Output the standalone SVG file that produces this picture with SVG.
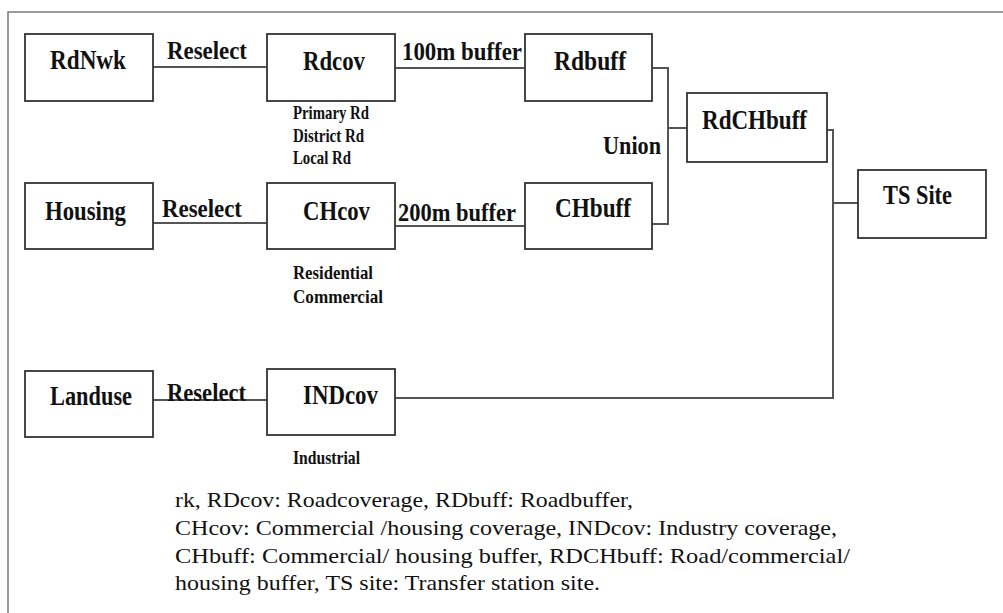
<svg xmlns="http://www.w3.org/2000/svg" width="1003" height="613" viewBox="0 0 1003 613">
<style>
.frame{fill:none;stroke:#7a7a7a;stroke-width:1.5}
.box{fill:#fff;stroke:#333;stroke-width:1.8}
text{font-family:'Liberation Serif','Tinos','Times New Roman','DejaVu Serif',serif;fill:#111}
.lbl{font-weight:bold;font-size:28px}
.cl{font-weight:bold;font-size:25px}
.sm{font-weight:bold;font-size:19px}
.note{font-size:22px}
.conn{fill:none;stroke:#555;stroke-width:2}
</style>
<rect width="1003" height="613" fill="#fff"/>
<path class="frame" d="M8,613 V12 H1003"/>
<g id="connectors">
<path class="conn" d="M153,67 H267"/>
<path class="conn" d="M395,68 H525"/>
<path class="conn" d="M652,68 H668 V224 H652"/>
<path class="conn" d="M668,128 H687"/>
<path class="conn" d="M827,130 H833 V398 H395"/>
<path class="conn" d="M833,203 H858"/>
<path class="conn" d="M153,223 H267"/>
<path class="conn" d="M395,226 H525"/>
<path class="conn" d="M153,400 H267"/>
<text class="cl" x="167" y="59" textLength="80" lengthAdjust="spacingAndGlyphs">Reselect</text>
<text class="cl" x="402" y="60" textLength="120" lengthAdjust="spacingAndGlyphs">100m buffer</text>
<text class="cl" x="603" y="154" textLength="58" lengthAdjust="spacingAndGlyphs">Union</text>
<text class="cl" x="162" y="217" textLength="80" lengthAdjust="spacingAndGlyphs">Reselect</text>
<text class="cl" x="398" y="221" textLength="118" lengthAdjust="spacingAndGlyphs">200m buffer</text>
<text class="cl" x="167" y="401" textLength="79" lengthAdjust="spacingAndGlyphs">Reselect</text>
</g>
<g id="RdNwk"><rect class="box" x="25" y="34" width="128" height="67"/><text class="lbl" x="50" y="69" textLength="76" lengthAdjust="spacingAndGlyphs">RdNwk</text></g>
<g id="Rdcov"><rect class="box" x="267" y="34" width="128" height="67"/><text class="lbl" x="303" y="70" textLength="62" lengthAdjust="spacingAndGlyphs">Rdcov</text>
<text class="sm" x="293" y="119" textLength="76" lengthAdjust="spacingAndGlyphs">Primary Rd</text>
<text class="sm" x="293" y="142" textLength="71" lengthAdjust="spacingAndGlyphs">District Rd</text>
<text class="sm" x="293" y="164" textLength="58" lengthAdjust="spacingAndGlyphs">Local Rd</text></g>
<g id="Rdbuff"><rect class="box" x="525" y="34" width="127" height="67"/><text class="lbl" x="554" y="70" textLength="72" lengthAdjust="spacingAndGlyphs">Rdbuff</text></g>
<g id="RdCHbuff"><rect class="box" x="687" y="93" width="140" height="69"/><text class="lbl" x="702" y="129" textLength="105" lengthAdjust="spacingAndGlyphs">RdCHbuff</text></g>
<g id="TSSite"><rect class="box" x="858" y="170" width="128" height="68"/><text class="lbl" x="883" y="204" textLength="69" lengthAdjust="spacingAndGlyphs">TS Site</text></g>
<g id="Housing"><rect class="box" x="25" y="183" width="128" height="66"/><text class="lbl" x="45" y="220" textLength="81" lengthAdjust="spacingAndGlyphs">Housing</text></g>
<g id="CHcov"><rect class="box" x="267" y="183" width="128" height="66"/><text class="lbl" x="303" y="220" textLength="67" lengthAdjust="spacingAndGlyphs">CHcov</text>
<text class="sm" x="293" y="279" textLength="80" lengthAdjust="spacingAndGlyphs">Residential</text>
<text class="sm" x="293" y="303" textLength="90" lengthAdjust="spacingAndGlyphs">Commercial</text></g>
<g id="CHbuff"><rect class="box" x="525" y="183" width="127" height="66"/><text class="lbl" x="555" y="217" textLength="76" lengthAdjust="spacingAndGlyphs">CHbuff</text></g>
<g id="Landuse"><rect class="box" x="25" y="371" width="128" height="66"/><text class="lbl" x="50" y="405" textLength="82" lengthAdjust="spacingAndGlyphs">Landuse</text></g>
<g id="INDcov"><rect class="box" x="267" y="369" width="128" height="66"/><text class="lbl" x="303" y="404" textLength="75" lengthAdjust="spacingAndGlyphs">INDcov</text>
<text class="sm" x="293" y="464" textLength="67" lengthAdjust="spacingAndGlyphs">Industrial</text></g>
<g id="notes">
<text class="note" x="175" y="507" textLength="458" lengthAdjust="spacingAndGlyphs">rk, RDcov: Roadcoverage, RDbuff: Roadbuffer,</text>
<text class="note" x="175" y="535" textLength="662" lengthAdjust="spacingAndGlyphs">CHcov: Commercial /housing coverage, INDcov: Industry coverage,</text>
<text class="note" x="175" y="563" textLength="675" lengthAdjust="spacingAndGlyphs">CHbuff: Commercial/ housing buffer, RDCHbuff: Road/commercial/</text>
<text class="note" x="175" y="590" textLength="425" lengthAdjust="spacingAndGlyphs">housing buffer, TS site: Transfer station site.</text>
</g>
</svg>
